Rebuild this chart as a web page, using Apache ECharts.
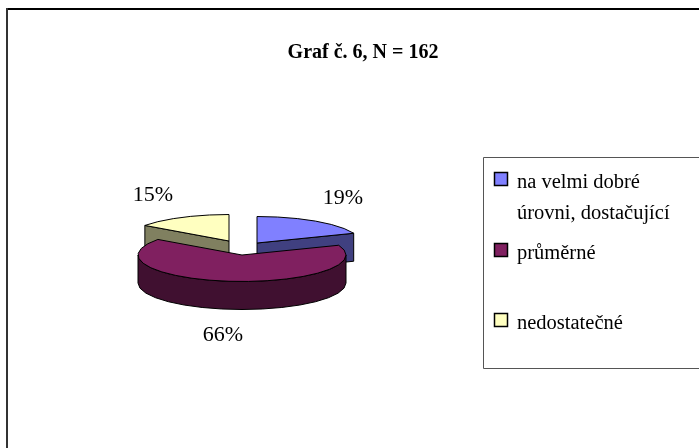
<!DOCTYPE html>
<html><head><meta charset="utf-8">
<style>html,body{margin:0;padding:0;background:#fff}#c{width:699px;height:448px}</style>
<script src="https://cdn.jsdelivr.net/npm/echarts@6/dist/echarts.min.js"></script>
</head><body><div id="c"></div>
<script>
const categories = ['na velmi dobré\núrovni, dostačující', 'průměrné', 'nedostatečné'];
const values = [19, 66, 15];
const colors = ['#8080FF', '#802060', '#FFFFC0'];
const sideColors = ['#404080', '#401030', '#808060'];
const titleText = 'Graf č. 6, N = 162';

const FONT = '"Liberation Serif","Times New Roman",serif';
const RX = 104, RY = 26.5, DEPTH = 28, STEP = 11;
const centers = [[257, 243], [242, 255], [229, 241]];
const labelPos = [[343, 198], [223, 335], [153, 195]];
const legendY = [179.5, 250.5, 320.5];
const stacking = [1, 5, 0];

const total = values.reduce((a, b) => a + b, 0);
let acc = 0;
const spans = values.map(v => { const s = acc; acc += v / total * 360; return [s, acc]; });

function pt(c, deg, dy) {
  const r = deg * Math.PI / 180;
  return [c[0] + RX * Math.sin(r), c[1] - RY * Math.cos(r) + (dy || 0)];
}
function arc(c, a, b, dy) {
  const pts = [];
  const n = Math.max(1, Math.round((b - a) / STEP));
  for (let i = 0; i <= n; i++) pts.push(pt(c, a + (b - a) * i / n, dy));
  return pts;
}
const LINE = { stroke: '#000', lineWidth: 1, lineJoin: 'round' };
function poly(points, fill, z2) {
  return { type: 'polygon', z2, shape: { points }, style: Object.assign({ fill }, LINE) };
}
function renderSlice(params, api) {
  const i = params.dataIndex, c = centers[i], a = spans[i][0], b = spans[i][1];
  const z = stacking[i], kids = [];
  const side = sideColors[i];
  // the cut faces that look towards the viewer
  [a, b].forEach(e => {
    const ca = Math.cos(e * Math.PI / 180);
    const facing = (e === b && e < 180) || (e === a && e > 180);
    if (facing && ca !== undefined) {
      const p = pt(c, e);
      kids.push(poly([c, p, [p[0], p[1] + DEPTH], [c[0], c[1] + DEPTH]], side, z));
    }
  });
  // visible outer wall: the part of the rim between 90 and 270 degrees
  const wa = Math.max(a, 90), wb = Math.min(b, 270);
  if (wb > wa) {
    const top = arc(c, wa, wb, 0), bottom = arc(c, wa, wb, DEPTH).reverse();
    kids.push(poly(top.concat(bottom), side, z));
  }
  // top face
  kids.push(poly([c].concat(arc(c, a, b, 0)), api.visual('color'), z + 1));
  // percentage label
  kids.push({
    type: 'text', z2: 20,
    style: { x: labelPos[i][0], y: labelPos[i][1], text: Math.round(api.value(0)) + '%',
      fill: '#000', font: '22px ' + FONT, textAlign: 'center', textVerticalAlign: 'middle' }
  });
  return { type: 'group', children: kids };
}

const legendGraphics = [
  { type: 'rect', shape: { x: 483.5, y: 157.5, width: 230, height: 211 },
    style: { fill: '#fff', stroke: '#555', lineWidth: 1 } }
];
categories.forEach((name, i) => {
  legendGraphics.push({ type: 'rect', shape: { x: 494.5, y: legendY[i] - 7, width: 13, height: 13 },
    style: { fill: colors[i], stroke: '#000', lineWidth: 1.5 }, z: 3 });
  legendGraphics.push({ type: 'text', z: 3, style: { x: 517, y: legendY[i] - 12, text: name,
    fill: '#000', font: '20.5px ' + FONT, lineHeight: 31, textAlign: 'left', textVerticalAlign: 'top' } });
});

const chart = echarts.init(document.getElementById('c'), null, { renderer: 'canvas' });
chart.setOption({
  animation: false,
  backgroundColor: '#fff',
  title: { text: titleText, left: 358, top: 38, textAlign: 'center',
    textStyle: { fontFamily: FONT, fontWeight: 'bold', fontSize: 20, color: '#000' } },
  tooltip: { show: false },
  graphic: [
    { type: 'line', shape: { x1: 6, y1: 9, x2: 699, y2: 9 }, style: { stroke: '#000', lineWidth: 2 } },
    { type: 'line', shape: { x1: 7, y1: 8, x2: 7, y2: 448 }, style: { stroke: '#333', lineWidth: 2 } }
  ].concat(legendGraphics),
  series: [{
    type: 'custom', coordinateSystem: 'none', renderItem: renderSlice, silent: true,
    data: values.map((v, i) => ({ value: [v], name: categories[i], itemStyle: { color: colors[i] } }))
  }]
});
</script></body></html>
